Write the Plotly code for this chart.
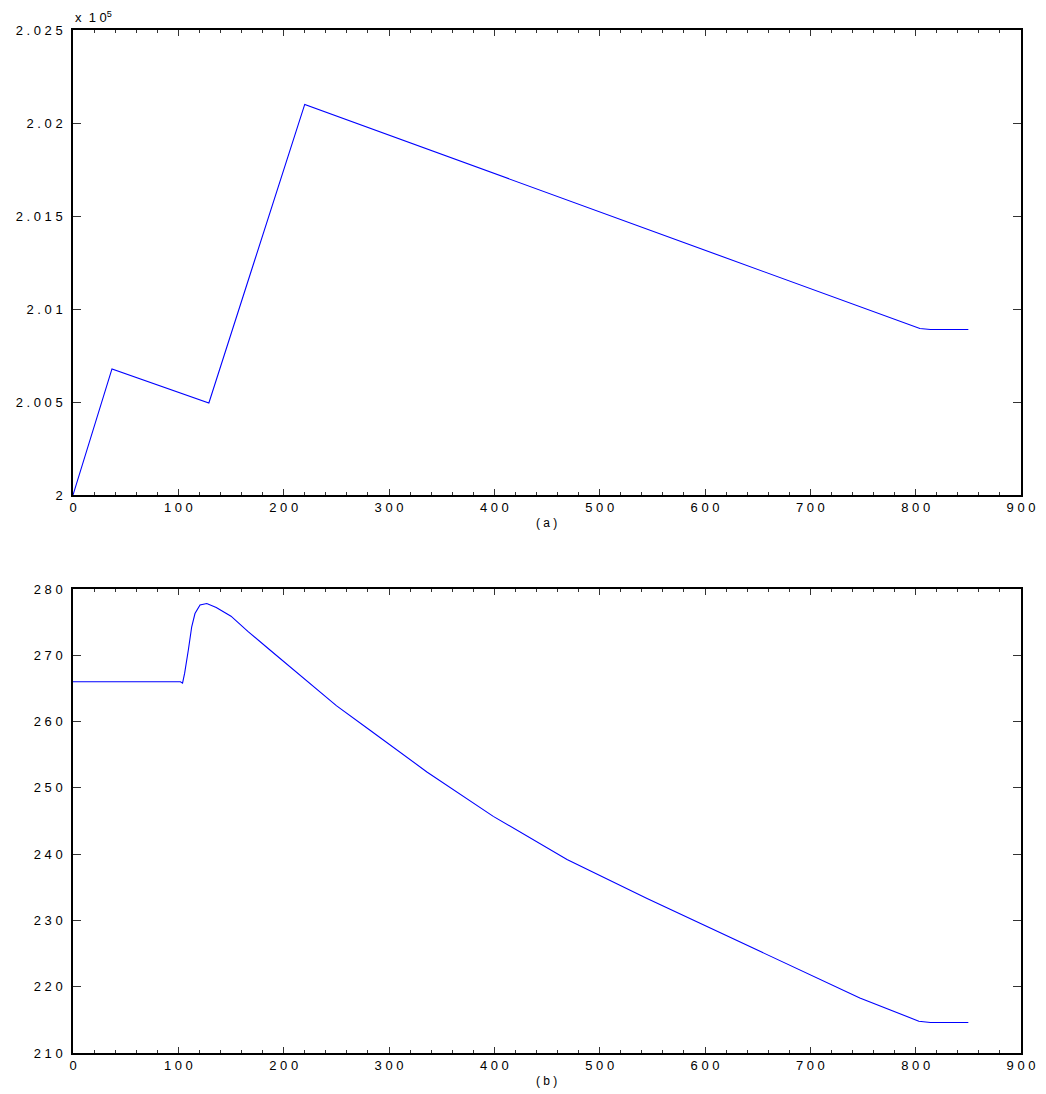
import plotly.graph_objects as go

# ---- series (a): value vs time, raw units (plotted on a x10^5 scale) ----
time_a = [0, 37, 129, 220, 804, 814, 850]
value_a = [200000, 200678, 200495, 202100, 200895, 200890, 200890]

# ---- series (b) ----
time_b = [0, 102, 104, 106, 109.5, 112.7, 115.8, 120.6, 127, 136, 150, 166, 187,
          219, 250, 282, 336, 399, 469, 545, 608, 671, 700, 747, 803, 814, 850]
value_b = [266.0, 266.0, 265.8, 267.3, 270.8, 274.3, 276.3, 277.6, 277.8, 277.2,
           275.9, 273.6, 270.8, 266.5, 262.4, 258.7, 252.4, 245.7, 239.2, 233.3,
           228.6, 223.9, 221.7, 218.3, 214.8, 214.6, 214.6]

# ---- tick labels ----
x_ticks = [0, 100, 200, 300, 400, 500, 600, 700, 800, 900]
y_ticks_a = [200000, 200500, 201000, 201500, 202000, 202500]
y_labels_a = ["2", "2.005", "2.01", "2.015", "2.02", "2.025"]
y_ticks_b = [210, 220, 230, 240, 250, 260, 270, 280]


def spaced(s):
    return " ".join(list(s))


FONT = "Liberation Sans, Arial, Helvetica, sans-serif"
W, H = 1046, 1094
x0, x1 = 73 / W, 1021 / W
top_a, bot_a = 1 - 30 / H, 1 - 495 / H
top_b, bot_b = 1 - 589 / H, 1 - 1053 / H

fig = go.Figure()
fig.add_trace(go.Scatter(x=time_a, y=value_a, mode="lines",
                         line=dict(color="#0000FF", width=1.1),
                         xaxis="x", yaxis="y", showlegend=False))
fig.add_trace(go.Scatter(x=time_b, y=value_b, mode="lines",
                         line=dict(color="#0000FF", width=1.1),
                         xaxis="x2", yaxis="y2", showlegend=False))

common_x = dict(
    range=[0, 900], tickmode="array", tickvals=x_ticks,
    ticktext=[spaced(str(v)) for v in x_ticks],
    ticks="inside", ticklen=6, tickcolor="#333", tickwidth=1,
    minor=dict(dtick=20, tick0=0, ticks="inside", ticklen=3, tickcolor="#333"),
    showline=True, linecolor="black", linewidth=1.5, mirror="ticks",
    showgrid=False, zeroline=False, fixedrange=True, automargin=False,
    tickfont=dict(family=FONT, size=13, color="black"),
    domain=[x0, x1],
)
common_y = dict(
    ticks="inside", ticklen=8, tickcolor="#333", tickwidth=1,
    showline=True, linecolor="black", linewidth=1.5, mirror="ticks",
    showgrid=False, zeroline=False, fixedrange=True, automargin=False,
    tickfont=dict(family=FONT, size=13, color="black"),
    ticklabelstandoff=6,
)

fig.update_layout(
    template="none",
    width=W, height=H,
    margin=dict(l=0, r=0, t=0, b=0, pad=0, autoexpand=False),
    paper_bgcolor="white", plot_bgcolor="white",
    xaxis=dict(common_x, anchor="y"),
    yaxis=dict(common_y, range=[200000, 202500], tickmode="array",
               tickvals=y_ticks_a, ticktext=[spaced(t) for t in y_labels_a],
               domain=[bot_a, top_a], anchor="x"),
    xaxis2=dict(common_x, anchor="y2"),
    yaxis2=dict(common_y, range=[210, 280], tickmode="array",
                tickvals=y_ticks_b, ticktext=[spaced(str(v)) for v in y_ticks_b],
                domain=[bot_b, top_b], anchor="x2"),
    annotations=[
        dict(text="x  1 0<sup>5</sup>", x=73 / W, y=1 - 17 / H, xref="paper", yref="paper",
             xanchor="left", yanchor="middle", showarrow=False,
             font=dict(family=FONT, size=13, color="black")),
        dict(text="( a )", x=546 / W, y=1 - 523 / H, xref="paper", yref="paper",
             xanchor="center", yanchor="middle", showarrow=False,
             font=dict(family=FONT, size=12, color="black")),
        dict(text="( b )", x=546 / W, y=1 - 1081 / H, xref="paper", yref="paper",
             xanchor="center", yanchor="middle", showarrow=False,
             font=dict(family=FONT, size=12, color="black")),
    ],
)

fig.write_html("out.html")
